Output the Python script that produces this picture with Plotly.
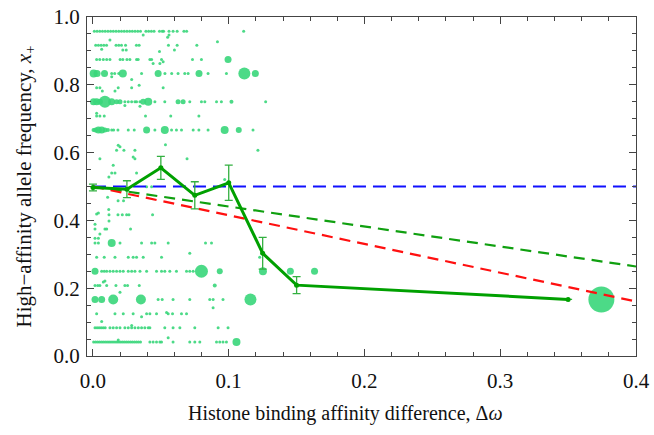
import plotly.graph_objects as go

# ---------------- data ----------------
mean_x = [0.0, 0.025, 0.05, 0.075, 0.1, 0.125, 0.15, 0.35]
mean_y = [0.497, 0.492, 0.555, 0.474, 0.511, 0.303, 0.209, 0.167]
mean_err = [0.01, 0.025, 0.034, 0.04, 0.052, 0.047, 0.025, 0.0]

line_x = [0.0, 0.4]
neutral_y = [0.5, 0.5]
green_theory_y = [0.5, 0.264]
red_theory_y = [0.5, 0.161]

# simulated populations: (x, marker size) for each allele-frequency level k/24
row23 = [(0.001,3),(0.003,3),(0.005,3),(0.007,3),(0.009,3),(0.011,3),(0.013,3),(0.015,3),(0.017,3),(0.019,3),(0.021,3),(0.023,3),(0.025,3),(0.027,3),(0.029,3),(0.031,3),(0.033,3),(0.035,3),(0.039,3),(0.041,3),(0.043,3),(0.045,3),(0.049,3),(0.051,3),(0.052,3),(0.056,3),(0.059,3),(0.062,3),(0.067,3),(0.069,3),(0.111,3)]
row22 = [(0.002,3),(0.004,3),(0.006,3),(0.008,3),(0.010,3),(0.017,3),(0.019,3),(0.021,3),(0.024,3),(0.032,3),(0.034,3),(0.0556,3),(0.062,3),(0.0765,3)]
row21 = [(0.0027,3),(0.005,3),(0.0076,3),(0.0101,3),(0.0125,3),(0.02,3),(0.022,3),(0.025,3),(0.0272,3),(0.0321,3),(0.0333,3),(0.0419,3),(0.0432,3),(0.0505,3),(0.0733,3),(0.0799,3),(0.0995,7)]
row20 = [(0.0005,8),(0.003,7),(0.0085,7),(0.0138,3),(0.016,3),(0.019,3),(0.022,8),(0.0358,3),(0.048,7),(0.053,3),(0.058,3),(0.0627,3),(0.0676,3),(0.0701,3),(0.0781,7),(0.0848,3),(0.0983,3),(0.1115,12),(0.1196,7)]
row19 = [(0.0027,3),(0.0051,3),(0.0186,3),(0.0285,3),(0.0517,3)]
row18 = [(0.0004,7),(0.0027,7),(0.0051,6),(0.0088,12),(0.0138,7),(0.0174,5),(0.0199,5),(0.0235,3),(0.026,3),(0.0285,3),(0.0309,3),(0.0321,3),(0.0346,3),(0.037,6),(0.0407,8),(0.0456,3),(0.0529,3),(0.0627,5),(0.0664,5),(0.0713,3),(0.0799,3),(0.0824,3),(0.091,3),(0.0946,3),(0.102,4),(0.1272,3)]
row17 = [(0.0027,3),(0.0051,3),(0.0083,3),(0.0387,3),(0.0573,3),(0.078,3)]
row16 = [(0.0004,4),(0.002,5),(0.004,7),(0.0064,7),(0.0088,5),(0.011,4),(0.0138,3),(0.0152,3),(0.0184,3),(0.026,3),(0.0304,3),(0.0395,7),(0.0456,3),(0.0529,8),(0.0579,3),(0.0615,3),(0.0652,3),(0.0738,3),(0.078,3),(0.0848,3),(0.097,8),(0.1074,6),(0.1179,3)]
row11 = [(0.0185,3),(0.0225,3)]
row10 = [(0.0118,3),(0.0184,3),(0.0216,3),(0.0248,3),(0.0265,3),(0.0439,3)]
row9 = [(0.0015,3),(0.0088,3),(0.0101,3),(0.0277,3)]
row8 = [(0.0015,3),(0.004,3),(0.0138,8),(0.0199,3),(0.0358,3),(0.0432,3),(0.0456,3),(0.0554,3),(0.0829,3),(0.0873,3)]
row7 = [(0.0027,3),(0.0083,3),(0.0162,3),(0.026,3),(0.0296,3),(0.0321,3),(0.037,3),(0.0505,3),(0.1228,3)]
row6 = [(0.0015,7),(0.0064,3),(0.0083,3),(0.0101,3),(0.0125,3),(0.0149,3),(0.0174,3),(0.0199,3),(0.0223,3),(0.026,3),(0.0285,3),(0.0309,3),(0.0346,3),(0.0395,3),(0.0468,3),(0.0505,3),(0.0529,3),(0.0566,3),(0.0615,3),(0.0689,3),(0.0713,3),(0.0738,3),(0.0799,13),(0.0934,6),(0.1252,8),(0.1454,7),(0.1632,7)]
row5 = [(0.0015,3),(0.0035,3),(0.0051,3),(0.0101,3),(0.0169,3),(0.0235,3),(0.0255,3),(0.0341,3),(0.0897,4)]
row4 = [(0.0015,7),(0.0064,7),(0.0149,10),(0.0353,10),(0.048,3),(0.051,3),(0.059,3),(0.0713,3),(0.086,3),(0.0885,3),(0.0958,3),(0.116,12),(0.3745,26)]
row3 = [(0.0027,3),(0.0162,3),(0.0223,3),(0.0296,3),(0.0395,3),(0.0419,3),(0.0468,3),(0.0554,3),(0.0586,3),(0.0652,3),(0.0689,3)]
row2 = [(0.0015,3),(0.003,3),(0.0045,3),(0.006,3),(0.0075,3),(0.009,3),(0.0125,3),(0.0149,3),(0.0174,3),(0.0199,3),(0.0235,3),(0.026,3),(0.0285,3),(0.0309,3),(0.0334,3),(0.0358,3),(0.0382,3),(0.0407,3),(0.0419,3),(0.0529,3),(0.059,3),(0.064,3),(0.075,3),(0.0922,3),(0.0995,3)]
row1 = [(0.0005,3),(0.002,3),(0.0035,3),(0.005,3),(0.0065,3),(0.008,3),(0.0095,3),(0.011,3),(0.0125,3),(0.014,3),(0.0155,3),(0.017,3),(0.0185,3),(0.02,3),(0.0215,3),(0.023,3),(0.0245,3),(0.026,3),(0.0275,3),(0.029,3),(0.0305,3),(0.032,3),(0.0335,3),(0.035,3),(0.0419,3),(0.0443,3),(0.0468,3),(0.0493,3),(0.0505,3),(0.059,3),(0.0713,3),(0.075,3),(0.0787,3),(0.091,3),(0.0934,3),(0.0958,3),(0.0983,3),(0.1057,8)]

rows = {23: row23, 22: row22, 21: row21, 20: row20, 19: row19, 18: row18, 17: row17,
        16: row16, 11: row11, 10: row10, 9: row9, 8: row8, 7: row7, 6: row6, 5: row5,
        4: row4, 3: row3, 2: row2, 1: row1}

# populations not on the k/24 grid
off_x = [0.037,0.056,0.055,0.0917,0.0125,0.0064,0.022,0.0245,0.049,0.06,0.0443,0.0493,0.0517,0.0138,0.0285,0.0069,0.0162,0.034,0.0235,0.0346,0.0027,
         0.0186,0.0199,0.0174,0.0228,0.0309,0.0534,0.1215,0.0051,0.0296,0.0309,0.0693,0.0149,0.0138,0.0162,0.0321,0.0117,0.0395,0.0432,0.097,
         0.0108,0.0116,0.0027,0.004,0.0118,0.0015,0.0051,0.0015,0.004,0.0713,0.0076,0.0088,0.0199,0.0885,0.0358,0.0542,0.0064,0.0285,0.0186,0.0554]
off_y = [0.947,0.947,0.940,0.927,0.932,0.905,0.903,0.903,0.898,0.903,0.863,0.863,0.868,0.824,0.816,0.782,0.782,0.799,0.739,0.737,0.716,
         0.622,0.617,0.607,0.607,0.607,0.623,0.607,0.582,0.587,0.582,0.582,0.563,0.540,0.540,0.540,0.528,0.499,0.499,0.521,
         0.468,0.432,0.419,0.422,0.398,0.389,0.360,0.347,0.347,0.303,0.218,0.221,0.188,0.142,0.116,0.128,0.102,0.090,0.047,0.054]

# ---------------- figure ----------------
dot_x, dot_y, dot_s = [], [], []
for k, pts in rows.items():
    for x, s in pts:
        dot_x.append(x)
        dot_y.append(k / 24)
        dot_s.append(s)
for x, y in zip(off_x, off_y):
    dot_x.append(x)
    dot_y.append(y)
    dot_s.append(3)

fig = go.Figure()
fig.add_trace(go.Scatter(x=dot_x, y=dot_y, mode="markers",
                         marker=dict(size=dot_s, color="#38d67a", opacity=0.9, line=dict(width=0)),
                         showlegend=False, hoverinfo="skip"))
fig.add_trace(go.Scatter(x=line_x, y=neutral_y, mode="lines",
                         line=dict(color="#1010ff", width=2.2, dash="13px,7px"), showlegend=False))
fig.add_trace(go.Scatter(x=line_x, y=green_theory_y, mode="lines",
                         line=dict(color="#10a010", width=2.2, dash="11px,7px"), showlegend=False))
fig.add_trace(go.Scatter(x=line_x, y=red_theory_y, mode="lines",
                         line=dict(color="#ff1010", width=2.2, dash="11px,7px"), showlegend=False))
fig.add_trace(go.Scatter(x=mean_x, y=mean_y, mode="lines+markers",
                         line=dict(color="#00a000", width=3),
                         marker=dict(size=5, color="#00a000"),
                         error_y=dict(type="data", array=mean_err, color="#33b040", thickness=1.3, width=4),
                         showlegend=False))

font_family = "Liberation Serif, Times New Roman, serif"
axis_common = dict(showline=True, linecolor="#444", linewidth=1.3, mirror="allticks",
                   ticks="inside", ticklen=7, tickwidth=1, tickcolor="#444",
                   showgrid=False, zeroline=False, automargin=False,
                   tickfont=dict(family=font_family, size=21, color="#111"))

fig.update_xaxes(range=[-0.0044, 0.4], dtick=0.1, tick0=0, tickformat=".1f",
                 ticklabelstandoff=6,
                 minor=dict(ticks="inside", ticklen=4, dtick=0.02, tickcolor="#444"),
                 **axis_common)
fig.update_yaxes(range=[0, 1], dtick=0.2, tick0=0, tickformat=".1f",
                 ticklabelstandoff=2,
                 minor=dict(ticks="inside", ticklen=4, dtick=0.05, tickcolor="#444"),
                 title=dict(text="High−affinity allele frequency, <i>x</i><sub>+</sub>",
                            font=dict(family=font_family, size=21, color="#111"), standoff=16),
                 **axis_common)

fig.add_annotation(text="Histone binding affinity difference, Δ<i>ω</i>",
                   xref="paper", yref="paper", x=0.47, y=-0.17,
                   xanchor="center", yanchor="middle", showarrow=False,
                   font=dict(family=font_family, size=20, color="#111"))

fig.update_layout(width=654, height=435, margin=dict(l=87, r=18, t=17, b=79),
                  plot_bgcolor="white", paper_bgcolor="white", showlegend=False)

fig.write_html("out.html")
